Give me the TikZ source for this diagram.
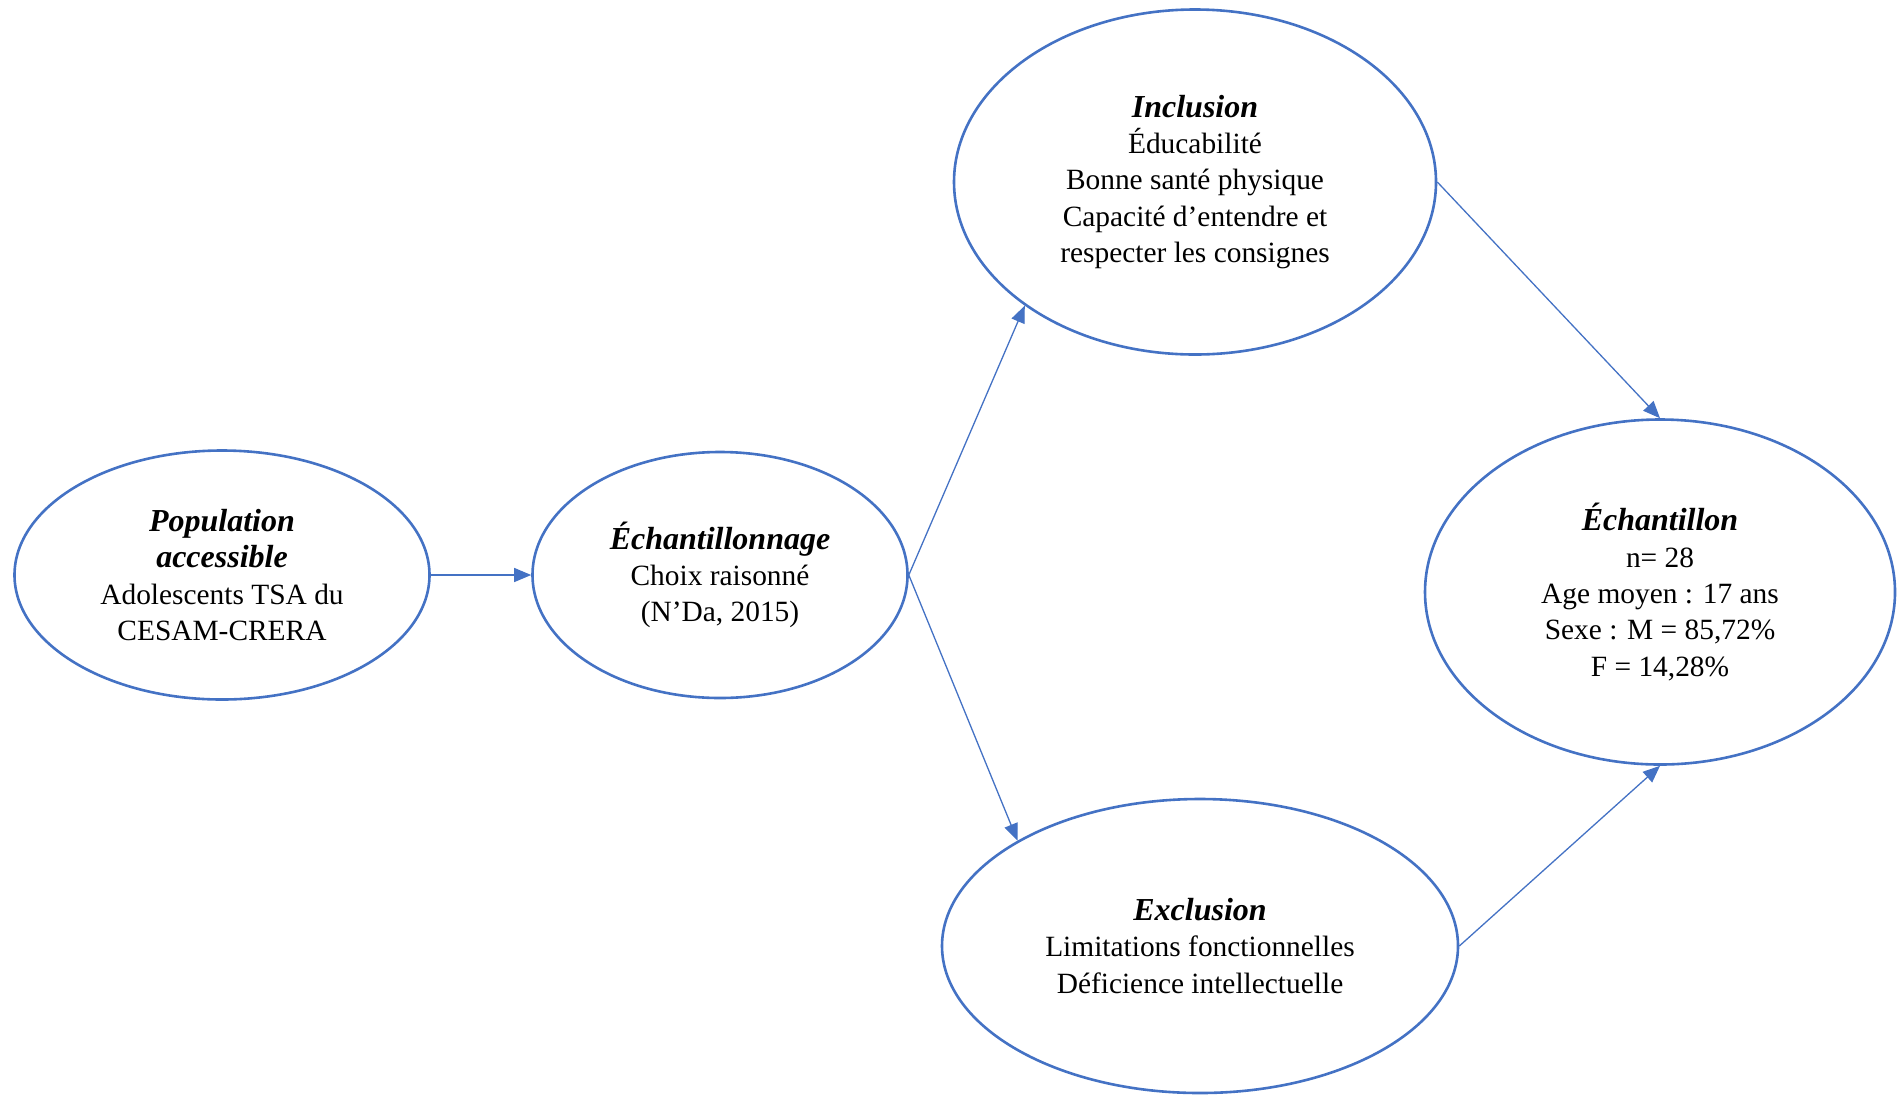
\documentclass[tikz,border=0pt]{standalone}
\usepackage{fontspec}
\setmainfont{Liberation Serif}
\usetikzlibrary{arrows.meta,shapes.geometric}
\definecolor{wordblue}{HTML}{4472C4}
% bold italic heading of each bubble, a little larger than the body text
\newcommand{\bubblehead}[1]{{\fontsize{32pt}{36.3pt}\selectfont\bfseries\itshape #1}}
\begin{document}
\begin{tikzpicture}[x=1pt,y=-1pt,
  bubble/.style={ellipse,draw=wordblue,line width=2.6pt,inner sep=0pt,
    align=center,font=\fontsize{29.4pt}{36.3pt}\selectfont},
  link/.style={draw=wordblue,line width=1.3pt,
    -{Triangle[length=17pt,width=14pt]}}]
\useasboundingbox (0,0) rectangle (1897,1096);

\node[bubble,minimum width=415pt,minimum height=249pt] (pop) at (222,575)
  {\bubblehead{Population}\\ \bubblehead{accessible}\\ Adolescents TSA du\\ CESAM-CRERA};
\node[bubble,minimum width=375pt,minimum height=246pt] (samp) at (720,575)
  {\bubblehead{Échantillonnage}\\ Choix raisonné\\ (N’Da, 2015)};
\node[bubble,minimum width=482pt,minimum height=345pt] (incl) at (1195,182)
  {\bubblehead{Inclusion}\\ Éducabilité\\ Bonne santé physique\\ Capacité d’entendre et\\ respecter les consignes};
\node[bubble,minimum width=516pt,minimum height=294pt] (excl) at (1200,946)
  {\bubblehead{Exclusion}\\ Limitations fonctionnelles\\ Déficience intellectuelle};
\node[bubble,minimum width=470pt,minimum height=345pt] (ech) at (1660,592)
  {\bubblehead{Échantillon}\\ n= 28\\ Age moyen : 17 ans\\ Sexe : M = 85,72\%\\ F = 14,28\%};

\draw[link] (pop.east) -- (samp.west);
\draw[link] (samp.east) -- (incl.216.8);
\draw[link] (samp.east) -- (excl.150.3);
\draw[link] (incl.east) -- (ech.north);
\draw[link] (excl.east) -- (ech.south);
\end{tikzpicture}
\end{document}
